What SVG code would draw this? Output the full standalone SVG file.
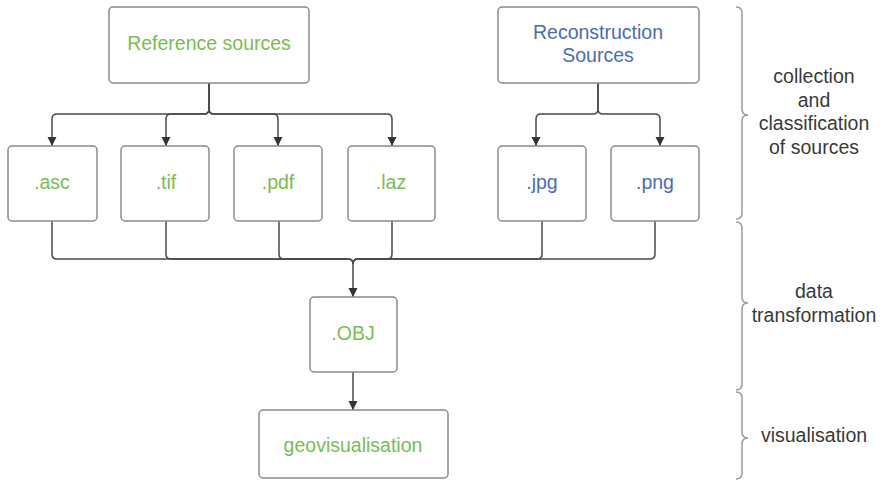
<svg xmlns="http://www.w3.org/2000/svg" width="882" height="484" viewBox="0 0 882 484">
<style>
.box{fill:#fff;stroke:#8a8a8a;stroke-width:1.5}
.t{font-family:"Liberation Sans",Arial,sans-serif;font-size:19.5px;text-anchor:middle}
.g{fill:#76c04f}
.b{fill:#4a6db5}
.d{fill:#3a3a3a}
.c{fill:none;stroke:#4a4a4a;stroke-width:1.5}
.br{fill:none;stroke:#9a9a9a;stroke-width:1.5}
</style>
<defs>
<marker id="ah" markerUnits="userSpaceOnUse" markerWidth="9" markerHeight="11" refX="10" refY="5" viewBox="0 0 10 10" orient="auto">
<path d="M0 0 L10 5 L0 10 z" fill="#333"/>
</marker>
</defs>
<rect width="882" height="484" fill="#fff"/>
<g id="connectors">
<path class="c" marker-end="url(#ah)" d="M209 83 V109 Q209 114 204 114 H57 Q52 114 52 119 V146"/>
<path class="c" marker-end="url(#ah)" d="M209 83 V109 Q209 114 204 114 H171 Q166 114 166 119 V146"/>
<path class="c" marker-end="url(#ah)" d="M209 83 V109 Q209 114 214 114 H273 Q278 114 278 119 V146"/>
<path class="c" marker-end="url(#ah)" d="M209 83 V109 Q209 114 214 114 H387 Q392 114 392 119 V146"/>
<path class="c" marker-end="url(#ah)" d="M598 83 V109 Q598 114 593 114 H541 Q536 114 536 119 V146"/>
<path class="c" marker-end="url(#ah)" d="M598 83 V109 Q598 114 603 114 H655 Q660 114 660 119 V146"/>
<path class="c" marker-end="url(#ah)" d="M52 221 V254 Q52 259 57 259 H348 Q353 259 353 264 V297"/>
<path class="c" d="M166 221 V254 Q166 259 171 259 H348 Q353 259 353 264"/>
<path class="c" d="M279 221 V254 Q279 259 284 259 H348"/>
<path class="c" d="M392 221 V254 Q392 259 387 259 H358 Q353 259 353 264"/>
<path class="c" d="M542 221 V254 Q542 259 537 259 H358 Q353 259 353 264"/>
<path class="c" d="M655 221 V254 Q655 259 650 259 H358 Q353 259 353 264"/>
<path class="c" marker-end="url(#ah)" d="M353 372 V410"/>
</g>
<g id="ref"><rect class="box" x="109" y="7" width="200" height="76" rx="4"/><text class="t g" x="209" y="50">Reference sources</text></g>
<g id="recon"><rect class="box" x="498" y="7" width="201" height="76" rx="4"/><text class="t b" x="598" y="39">Reconstruction</text><text class="t b" x="598" y="62">Sources</text></g>
<g id="asc"><rect class="box" x="8" y="146" width="89" height="75" rx="4"/><text class="t g" x="52" y="189">.asc</text></g>
<g id="tif"><rect class="box" x="121" y="146" width="88" height="75" rx="4"/><text class="t g" x="166" y="189">.tif</text></g>
<g id="pdf"><rect class="box" x="234" y="146" width="88" height="75" rx="4"/><text class="t g" x="278" y="189">.pdf</text></g>
<g id="laz"><rect class="box" x="348" y="146" width="87" height="75" rx="4"/><text class="t g" x="391" y="189">.laz</text></g>
<g id="jpg"><rect class="box" x="498" y="146" width="88" height="75" rx="4"/><text class="t b" x="542" y="189">.jpg</text></g>
<g id="png"><rect class="box" x="611" y="146" width="88" height="75" rx="4"/><text class="t b" x="655" y="189">.png</text></g>
<g id="obj"><rect class="box" x="310" y="297" width="87" height="75" rx="4"/><text class="t g" x="353" y="340">.OBJ</text></g>
<g id="geovis"><rect class="box" x="259" y="410" width="189" height="68" rx="4"/><text class="t g" x="353" y="452">geovisualisation</text></g>
<g id="braces">
<path class="br" d="M736 7 Q742 7 742 13 V109 Q742 115 748 115 Q742 115 742 121 V213 Q742 219 736 219"/>
<path class="br" d="M736 222 Q742 222 742 228 V297 Q742 303 748 303 Q742 303 742 309 V384 Q742 390 736 390"/>
<path class="br" d="M736 392 Q742 392 742 398 V432 Q742 438 748 438 Q742 438 742 444 V473 Q742 479 736 479"/>
</g>
<g id="labels">
<text class="t d" x="814" y="83">collection</text>
<text class="t d" x="814" y="107">and</text>
<text class="t d" x="814" y="130">classification</text>
<text class="t d" x="814" y="154">of sources</text>
<text class="t d" x="814" y="298">data</text>
<text class="t d" x="814" y="322">transformation</text>
<text class="t d" x="814" y="442">visualisation</text>
</g>
</svg>
